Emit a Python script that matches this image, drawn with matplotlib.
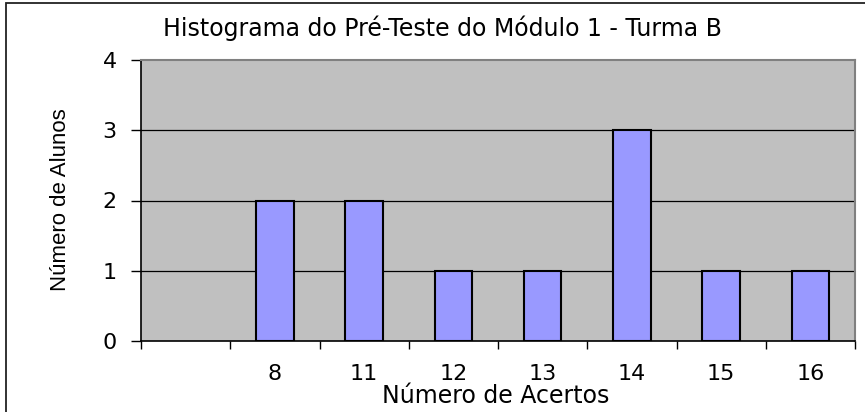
import matplotlib
matplotlib.use("Agg")
import matplotlib.pyplot as plt
from matplotlib.patches import Rectangle

categories = ['', '8', '11', '12', '13', '14', '15', '16']
counts = [0, 2, 2, 1, 1, 3, 1, 1]
yticks = [0, 1, 2, 3, 4]
title = 'Histograma do Pré-Teste do Módulo 1 - Turma B'
xlabel = 'Número de Acertos'
ylabel = 'Número de Alunos'

plt.rcParams['font.family'] = ['DejaVu Sans']

W, H = 865, 412
fig = plt.figure(figsize=(W / 100, H / 100), dpi=100)
fig.patch.set_facecolor('white')

# figure frame (top and left visible, right/bottom cropped)
fig.add_artist(Rectangle((6 / W, -0.1), 1.2, (H - 3) / H + 0.1, transform=fig.transFigure,
                         fill=False, edgecolor='#222222', linewidth=1.3))

left, right, top, bottom = 141, 855, 60, 341
ax = fig.add_axes([left / W, 1 - bottom / H, (right - left) / W, (bottom - top) / H])
ax.set_facecolor('#C0C0C0')

xs = [i for i, c in enumerate(categories) if c != '']
hs = [counts[i] for i in xs]
ax.bar(xs, hs, width=0.42, color='#9999FF', edgecolor='black', linewidth=1.5, zorder=3)

ax.set_xlim(-0.5, len(categories) - 0.5)
ax.set_ylim(0, 4)
ax.set_yticks(yticks)
ax.set_yticklabels([str(v) for v in yticks], fontsize=16)
ax.set_xticks([i - 0.5 for i in range(len(categories) + 1)])
ax.set_xticklabels([])
px = 4 / (bottom - top)  # data units per pixel (y)
for i, c in enumerate(categories):
    ax.text(i, -(380 - bottom) * px, c, ha='center', va='baseline', fontsize=16)

ax.tick_params(axis='y', length=7.5, width=1, direction='out', pad=10)
ax.tick_params(axis='x', length=5.5, width=1, direction='out')

for v in [1, 2, 3]:
    ax.axhline(v, color='black', linewidth=0.9, zorder=1)

ax.spines['left'].set_color('black')
ax.spines['bottom'].set_color('black')
ax.spines['left'].set_linewidth(1.2)
ax.spines['bottom'].set_linewidth(1.2)
ax.spines['top'].set_color('#808080')
ax.spines['right'].set_color('#808080')
ax.spines['top'].set_linewidth(1.5)
ax.spines['right'].set_linewidth(1.5)

fig.text(442 / W, 1 - 36 / H, title, ha='center', va='baseline', fontsize=17)
fig.text(496 / W, 1 - 403 / H, xlabel, ha='center', va='baseline', fontsize=17)
fig.text(61 / W, 1 - 200 / H, ylabel, ha='center', va='center', rotation=90, fontsize=16,
         family=['Liberation Sans Narrow', 'Liberation Sans', 'DejaVu Sans'])

fig.savefig('out.png', dpi=100)
